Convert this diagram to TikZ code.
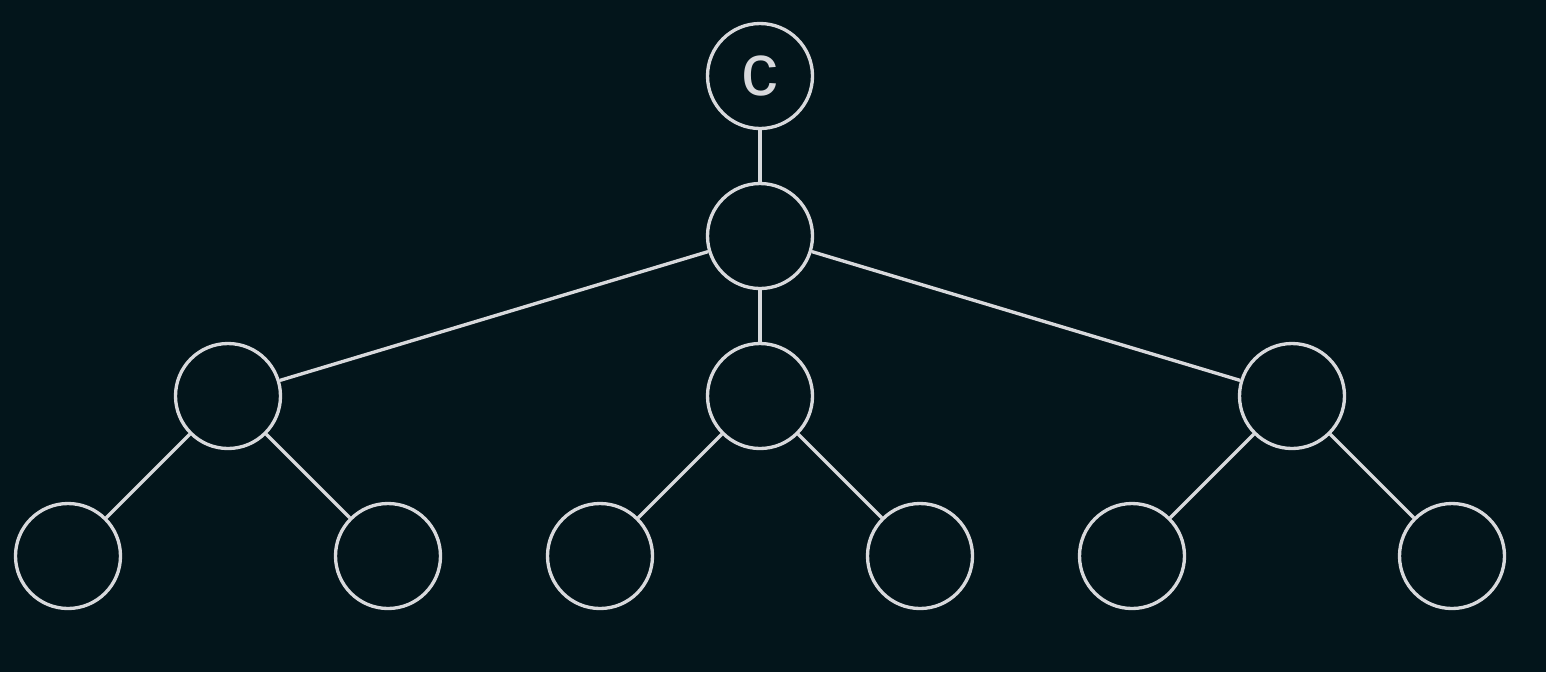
\documentclass[tikz,border=0pt]{standalone}
\usepackage{fontspec}
\setmainfont{Liberation Sans}
\definecolor{bgdark}{HTML}{03151B}
\definecolor{edgegray}{HTML}{D8D9DC}
\tikzset{
    vert/.style={circle, draw=edgegray, line width=1.9pt, minimum size=2.1cm, inner sep=0pt, text=edgegray, font=\fontsize{42}{42}\selectfont},
    link/.style={draw=edgegray, line width=1.9pt}
}

\begin{document}
\begin{tikzpicture}
        \fill[bgdark] (0,0) rectangle (30.92,-13.44);
        \useasboundingbox (0,0) rectangle (30.92,-13.44);
        % top levels
        \node[vert] (root) at (15.2,-1.52) {c};
        \node[vert] (mid) at (15.2,-4.72) {};
        % third level
        \node[vert] (left) at (4.56,-7.92) {};
        \node[vert] (centre) at (15.2,-7.92) {};
        \node[vert] (right) at (25.84,-7.92) {};
        % leaves
        \node[vert] (leafa) at (1.36,-11.12) {};
        \node[vert] (leafb) at (7.76,-11.12) {};
        \node[vert] (leafc) at (12.0,-11.12) {};
        \node[vert] (leafd) at (18.4,-11.12) {};
        \node[vert] (leafe) at (22.64,-11.12) {};
        \node[vert] (leaff) at (29.04,-11.12) {};

        \draw[link] (root) -- (mid);
        \draw[link] (mid) -- (left);
        \draw[link] (mid) -- (centre);
        \draw[link] (mid) -- (right);
        \draw[link] (left) -- (leafa);
        \draw[link] (left) -- (leafb);
        \draw[link] (centre) -- (leafc);
        \draw[link] (centre) -- (leafd);
        \draw[link] (right) -- (leafe);
        \draw[link] (right) -- (leaff);
    \end{tikzpicture}
\end{document}
